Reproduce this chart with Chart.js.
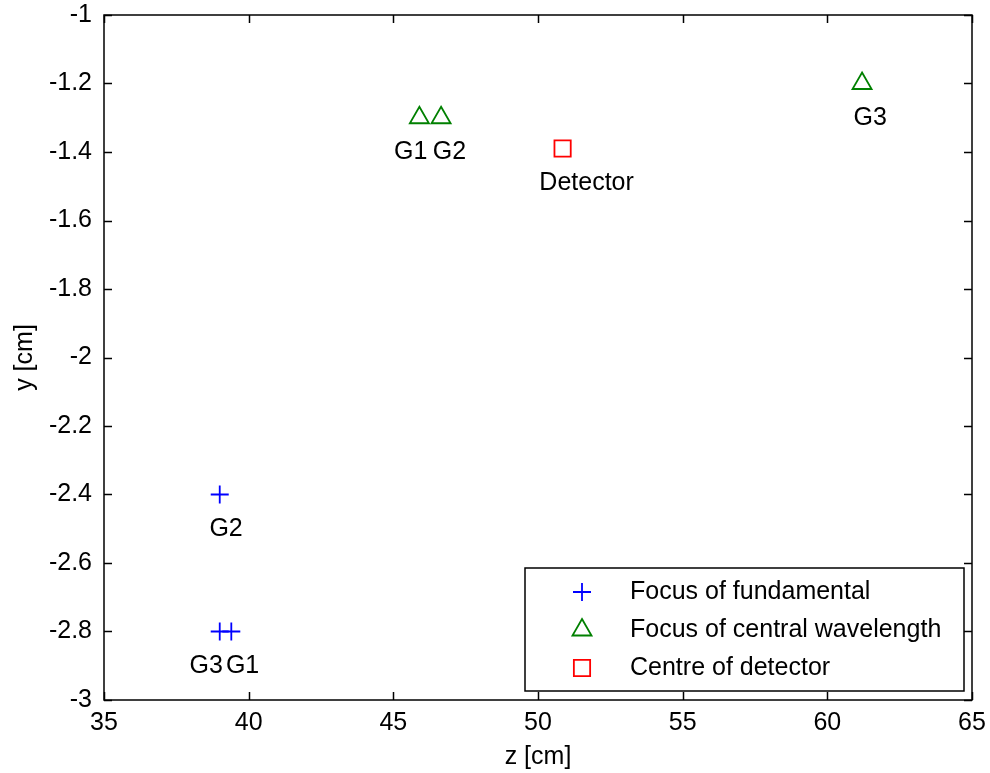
<!DOCTYPE html>
<html>
<head>
<meta charset="utf-8">
<script src="https://cdn.jsdelivr.net/npm/chart.js@4"></script>
<style>
  html, body { margin: 0; padding: 0; background: #ffffff; }
  #wrap { width: 990px; height: 773px; }
</style>
</head>
<body>
<div id="wrap"><canvas id="focusChart" width="990" height="773"></canvas></div>
<script>
// positions of foci (z, y in cm)
const fundZ = [39.4, 39.0, 39.0];
const fundY = [-2.8, -2.4, -2.8];
const fundNames = ['G1', 'G2', 'G3'];

const centralZ = [45.9, 46.65, 61.2];
const centralY = [-1.3, -1.3, -1.2];
const centralNames = ['G1', 'G2', 'G3'];

const detZ = [50.85];
const detY = [-1.39];

// text annotations (anchor in data units)
const noteText = ['G2', 'G3', 'G1', 'G1', 'G2', 'G3', 'Detector'];
const noteZ = [39.22, 38.53, 39.79, 45.6, 46.94, 61.48, 51.68];
const noteY = [-2.5, -2.9, -2.9, -1.4, -1.4, -1.3, -1.49];

const xTicks = [35, 40, 45, 50, 55, 60, 65];
const yTicks = [-3, -2.8, -2.6, -2.4, -2.2, -2, -1.8, -1.6, -1.4, -1.2, -1];

const seriesLabels = ['Focus of fundamental', 'Focus of central wavelength', 'Centre of detector'];

const FONT = 'Arial, "Liberation Sans", sans-serif';
const FSIZE = 25;

function toPoints(xs, ys) {
    return xs.map((x, i) => ({ x: x, y: ys[i] }));
}

// inward tick marks on all four sides + text labels + boxed legend
const matlabBits = {
    id: 'matlabBits',
    afterDraw(chart) {
        const ctx = chart.ctx;
        const a = chart.chartArea;
        const xs = chart.scales.x;
        const ys = chart.scales.y;
        const tl = 8;

        ctx.save();
        ctx.strokeStyle = '#000000';
        ctx.lineWidth = 1.5;
        ctx.strokeRect(a.left, a.top, a.right - a.left, a.bottom - a.top);

        ctx.beginPath();
        xTicks.forEach(v => {
            const px = Math.round(xs.getPixelForValue(v)) + 0.5;
            ctx.moveTo(px, a.bottom); ctx.lineTo(px, a.bottom - tl);
            ctx.moveTo(px, a.top); ctx.lineTo(px, a.top + tl);
        });
        yTicks.forEach(v => {
            const py = Math.round(ys.getPixelForValue(v)) + 0.5;
            ctx.moveTo(a.left, py); ctx.lineTo(a.left + tl, py);
            ctx.moveTo(a.right, py); ctx.lineTo(a.right - tl, py);
        });
        ctx.stroke();

        // annotations
        ctx.fillStyle = '#000000';
        ctx.font = FSIZE + 'px ' + FONT;
        ctx.textAlign = 'center';
        ctx.textBaseline = 'middle';
        noteText.forEach((t, i) => {
            ctx.fillText(t, xs.getPixelForValue(noteZ[i]), ys.getPixelForValue(noteY[i]));
        });

        // legend box in lower right corner
        const bx = a.right - 447, by = a.bottom - 132, bw = 439, bh = 123;
        ctx.fillStyle = '#ffffff';
        ctx.fillRect(bx, by, bw, bh);
        ctx.lineWidth = 1.5;
        ctx.strokeRect(bx, by, bw, bh);

        chart.data.datasets.forEach((ds, i) => {
            const rowY = by + 24 + i * 38;
            ctx.strokeStyle = ds.borderColor;
            ctx.fillStyle = 'rgba(0,0,0,0)';
            ctx.lineWidth = ds.borderWidth;
            Chart.helpers.drawPoint(ctx, {
                pointStyle: ds.pointStyle,
                radius: ds.pointRadius,
                borderWidth: ds.borderWidth
            }, bx + 57, rowY);
            ctx.fillStyle = '#000000';
            ctx.textAlign = 'left';
            ctx.fillText(ds.label, bx + 105, rowY);
        });
        ctx.restore();
    }
};

new Chart(document.getElementById('focusChart'), {
    type: 'scatter',
    data: {
        datasets: [
            {
                label: seriesLabels[0],
                data: toPoints(fundZ, fundY),
                pointStyle: 'cross',
                pointRadius: 9,
                borderColor: '#0000ff',
                backgroundColor: 'transparent',
                borderWidth: 1.8
            },
            {
                label: seriesLabels[1],
                data: toPoints(centralZ, centralY),
                pointStyle: 'triangle',
                pointRadius: 11,
                borderColor: '#008000',
                backgroundColor: 'transparent',
                borderWidth: 1.8
            },
            {
                label: seriesLabels[2],
                data: toPoints(detZ, detY),
                pointStyle: 'rect',
                pointRadius: 11.5,
                borderColor: '#ff0000',
                backgroundColor: 'transparent',
                borderWidth: 1.8
            }
        ]
    },
    options: {
        responsive: false,
        animation: false,
        layout: { padding: { top: 15, right: 18, left: 0, bottom: 0 } },
        plugins: {
            legend: { display: false },
            tooltip: { enabled: false }
        },
        scales: {
            x: {
                type: 'linear',
                min: 35,
                max: 65,
                afterFit: s => { s.height = 73; s.paddingLeft = 0; s.paddingRight = 0; },
                afterBuildTicks: s => { s.ticks = xTicks.map(v => ({ value: v })); },
                grid: { drawOnChartArea: false, drawTicks: false },
                border: { display: false },
                ticks: {
                    color: '#000000',
                    padding: 8,
                    font: { family: FONT, size: FSIZE }
                },
                title: {
                    display: true,
                    text: 'z [cm]',
                    color: '#000000',
                    font: { family: FONT, size: FSIZE },
                    padding: { top: 0, bottom: 1 }
                }
            },
            y: {
                type: 'linear',
                min: -3,
                max: -1,
                afterFit: s => { s.width = 104; s.paddingTop = 0; s.paddingBottom = 0; },
                afterBuildTicks: s => { s.ticks = yTicks.map(v => ({ value: v })); },
                grid: { drawOnChartArea: false, drawTicks: false },
                border: { display: false },
                ticks: {
                    color: '#000000',
                    padding: 12,
                    font: { family: FONT, size: FSIZE },
                    callback: v => String(+v.toFixed(1))
                },
                title: {
                    display: true,
                    text: 'y [cm]',
                    color: '#000000',
                    font: { family: FONT, size: FSIZE },
                    padding: { top: 10, bottom: 0 }
                }
            }
        }
    },
    plugins: [matlabBits]
});
</script>
</body>
</html>
